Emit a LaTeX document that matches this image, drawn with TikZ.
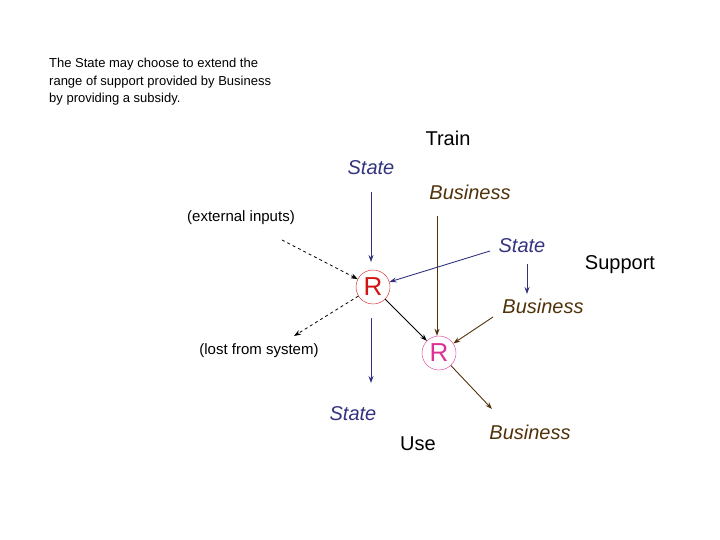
\documentclass[tikz,border=0pt]{standalone}
\usepackage{fontspec}
\setmainfont{Liberation Sans}
\usetikzlibrary{arrows.meta}
\definecolor{navy}{RGB}{51,51,128}
\definecolor{brn}{RGB}{80,50,10}
\definecolor{rred}{RGB}{210,20,20}
\definecolor{mag}{RGB}{220,50,150}
\begin{document}
\begin{tikzpicture}[x=1pt,y=-1pt,
  lab/.style={inner sep=0pt,font=\fontsize{20}{24}\selectfont},
  st/.style={lab,text=navy,font=\fontsize{20}{24}\selectfont\itshape},
  bu/.style={lab,text=brn,font=\fontsize{20}{24}\selectfont\itshape},
  sm/.style={inner sep=0pt,font=\fontsize{15}{18}\selectfont},
  rr/.style={circle,draw,minimum size=34pt,inner sep=0pt,font=\fontsize{26}{30}\selectfont},
  ar/.style={-{Stealth[length=7pt,width=5pt]},line width=0.9pt}]
\useasboundingbox (0,0) rectangle (720,540);
\node[anchor=north west,align=left,inner sep=0pt,font=\fontsize{13}{17.5}\selectfont] (txt) at (49,58) {The State may choose to extend the\\range of support provided by Business\\by providing a subsidy.};
\node[lab] (train) at (448,138) {Train};
\node[st] (s1) at (371,168) {State};
\node[bu] (b1) at (470,192) {Business};
\node[sm] (ext) at (241,218) {(external inputs)};
\node[st] (s2) at (522,246) {State};
\node[lab] (sup) at (620,265) {Support};
\node[rr,draw=rred,text=rred] (r1) at (373,287) {R};
\node[bu] (b2) at (543,306) {Business};
\node[sm] (lost) at (259,351) {(lost from system)};
\node[rr,draw=mag,text=mag] (r2) at (439,353) {R};
\node[st] (s3) at (353,414) {State};
\node[lab] (use) at (418,444) {Use};
\node[bu] (b3) at (530,432) {Business};
\coordinate (c1) at (371,192); \coordinate (c1e) at (371,262);
\coordinate (c2) at (490,251);
\coordinate (c3) at (282,240);
\coordinate (c4) at (294,336);
\coordinate (c5) at (371,383);
\coordinate (c6) at (437,216);
\coordinate (c7) at (527,264); \coordinate (c7e) at (527,294);
\coordinate (c8) at (493,317);
\coordinate (c9) at (492,409);
\draw[ar,navy] (c1) -- (c1e);
\draw[ar,navy] (c2) -- (r1);
\draw[ar,black,dashed,line width=0.8pt] (c3) -- (r1);
\draw[ar,black,dashed,line width=0.8pt] (r1) -- (c4);
\draw[ar,navy] (r1.south -| c5) ++(0,14) -- (c5);
\draw[ar,black] (r1) -- (r2);
\draw[ar,brn] (c6) -- (c6 |- r2.north);
\draw[ar,navy] (c7) -- (c7e);
\draw[ar,brn] (c8) -- (r2);
\draw[ar,brn] (r2) -- (c9);
\end{tikzpicture}
\end{document}
